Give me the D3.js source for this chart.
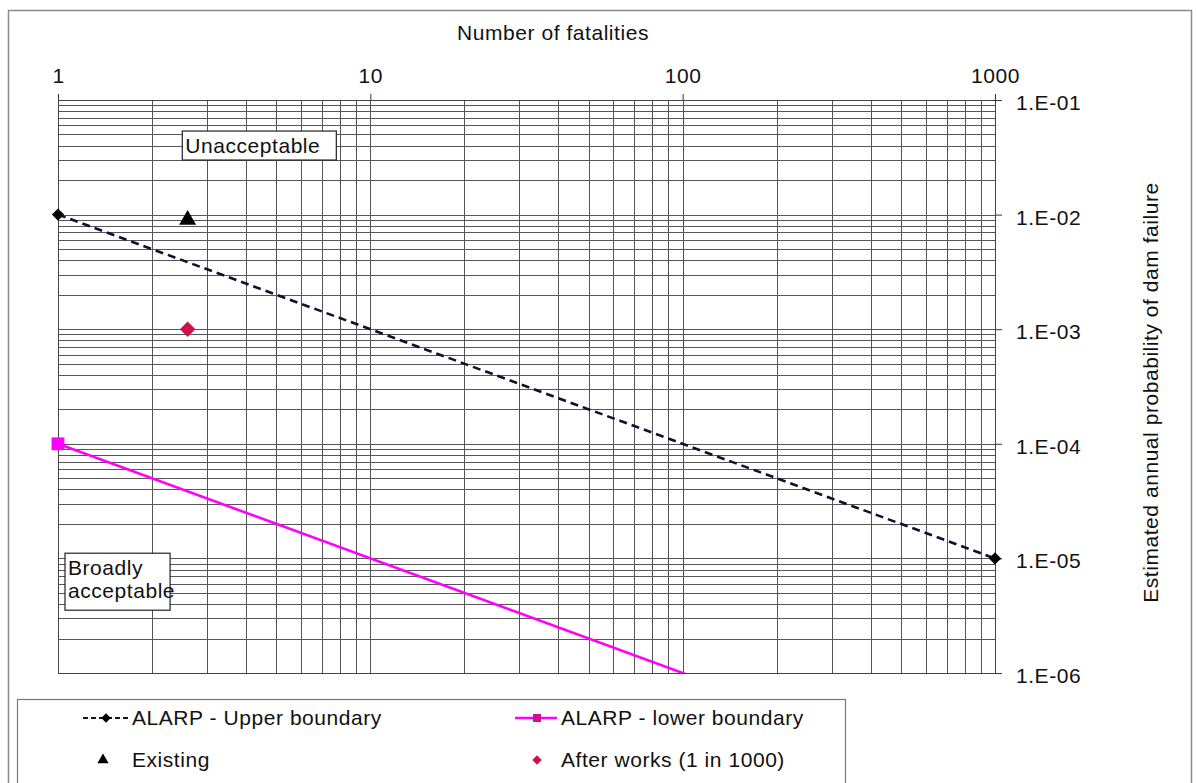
<!DOCTYPE html>
<html>
<head>
<meta charset="utf-8">
<script src="https://cdn.jsdelivr.net/npm/d3@7"></script>
<style>
  html, body { margin: 0; padding: 0; background: #fff; }
  svg text { font-family: "Liberation Sans", Arial, sans-serif; fill: #111; }
</style>
</head>
<body>
<svg id="chart" width="1197" height="783"></svg>
<script>
// ---- data -------------------------------------------------------------
const xTickValues = [1, 10, 100, 1000];
const yTickValues = [1e-1, 1e-2, 1e-3, 1e-4, 1e-5, 1e-6];

const upperFatalities  = [1, 1000];
const upperProbability = [1e-2, 1e-5];

const lowerFatalities  = [1, 1000];
const lowerProbability = [1e-4, 1e-7];

const existingFatalities  = [2.6];
const existingProbability = [9e-3];

const afterFatalities  = [2.6];
const afterProbability = [1e-3];

const seriesNames = [
  "ALARP - Upper boundary",
  "ALARP - lower boundary",
  "Existing",
  "After works (1 in 1000)"
];

const zoneLabels = [
  { lines: ["Unacceptable"], fat: 2.5, prob: 0.0536 },
  { lines: ["Broadly", "acceptable"], fat: 1.053, prob: 1.11e-5 }
];

const xTitle = "Number of fatalities";
const yTitle = "Estimated annual probability of dam failure";

// ---- layout -----------------------------------------------------------
const W = 1197, H = 783;
const plot = { left: 58, right: 995, top: 100, bottom: 673 };
const colors = { upper: "#101030", lower: "#ff00ff", existing: "#000", after: "#d0104c" };
const FONT = 21, SPACING = 0.55;

const svg = d3.select("#chart");

const x = d3.scaleLog().domain([1, 1000]).range([plot.left, plot.right]);
const y = d3.scaleLog().domain([1e-1, 1e-6]).range([plot.top, plot.bottom]);

// outer chart frame
svg.append("rect")
  .attr("x", 8.5).attr("y", 10.5)
  .attr("width", 1183).attr("height", 800)
  .attr("fill", "#fff").attr("stroke", "#8a8a8a").attr("stroke-width", 1.5);

// ---- grid -------------------------------------------------------------
const crisp = v => Math.round(v) + 0.5;
const grid = svg.append("g").attr("stroke", "#555").attr("stroke-width", 1);

grid.selectAll("line.v").data(x.ticks()).join("line")
  .attr("class", "v")
  .attr("x1", d => crisp(x(d))).attr("x2", d => crisp(x(d)))
  .attr("y1", plot.top).attr("y2", plot.bottom);

grid.selectAll("line.h").data(y.ticks()).join("line")
  .attr("class", "h")
  .attr("x1", plot.left).attr("x2", plot.right)
  .attr("y1", d => crisp(y(d))).attr("y2", d => crisp(y(d)));

svg.append("rect")
  .attr("x", crisp(plot.left)).attr("y", crisp(plot.top))
  .attr("width", Math.round(plot.right - plot.left))
  .attr("height", Math.round(plot.bottom - plot.top))
  .attr("fill", "none").attr("stroke", "#444").attr("stroke-width", 1);

// ---- axes -------------------------------------------------------------
const topAxis = d3.axisTop(x)
  .tickValues(xTickValues)
  .tickFormat(d3.format("d"))
  .tickSize(6).tickSizeOuter(0).tickPadding(11);

const gx = svg.append("g")
  .attr("transform", `translate(0,${plot.top})`)
  .call(topAxis);
gx.select(".domain").remove();
gx.selectAll("line").attr("stroke", "#333");
gx.selectAll("text")
  .attr("font-size", FONT).attr("letter-spacing", SPACING)
  .attr("font-family", "Liberation Sans, Arial, sans-serif").attr("fill", "#111");

const expFormat = d => "1.E-" + String(-Math.round(Math.log10(d))).padStart(2, "0");
const rightAxis = d3.axisRight(y)
  .tickValues(yTickValues)
  .tickFormat(expFormat)
  .tickSize(7).tickSizeOuter(0).tickPadding(14);

const gy = svg.append("g")
  .attr("transform", `translate(${plot.right},0)`)
  .call(rightAxis);
gy.select(".domain").remove();
gy.selectAll("line").attr("stroke", "#333");
gy.selectAll("text")
  .attr("font-size", FONT).attr("letter-spacing", SPACING)
  .attr("font-family", "Liberation Sans, Arial, sans-serif").attr("fill", "#111")
  .attr("dy", "0.45em");

// axis titles
svg.append("text")
  .attr("x", 553).attr("y", 40)
  .attr("text-anchor", "middle")
  .attr("font-size", FONT).attr("letter-spacing", SPACING)
  .text(xTitle);

svg.append("text")
  .attr("transform", `translate(1158,${(plot.top + plot.bottom) / 2 + 6}) rotate(-90)`)
  .attr("text-anchor", "middle")
  .attr("font-size", FONT).attr("letter-spacing", SPACING)
  .text(yTitle);

// ---- series -----------------------------------------------------------
svg.append("clipPath").attr("id", "plot-clip")
  .append("rect")
  .attr("x", plot.left - 8).attr("y", plot.top - 8)
  .attr("width", plot.right - plot.left + 16)
  .attr("height", plot.bottom - plot.top + 8);

const zip = (a, b) => a.map((v, i) => [v, b[i]]);
const line = d3.line().x(d => x(d[0])).y(d => y(d[1]));

const series = svg.append("g").attr("clip-path", "url(#plot-clip)");

const upper = zip(upperFatalities, upperProbability);
const lower = zip(lowerFatalities, lowerProbability);

series.append("path")
  .datum(lower)
  .attr("d", line)
  .attr("fill", "none").attr("stroke", colors.lower).attr("stroke-width", 2.6);

series.append("path")
  .datum(upper)
  .attr("d", line)
  .attr("fill", "none").attr("stroke", colors.upper).attr("stroke-width", 2.6)
  .attr("stroke-dasharray", "8,5");

const sym = (type, size) => d3.symbol().type(type).size(size)();

// point markers (those falling outside the plot area are hidden)
const inPlot = d => d[0] >= 1 && d[0] <= 1000 && d[1] >= 1e-6 && d[1] <= 1e-1;

svg.selectAll("path.upper-pt").data(upper.filter(inPlot)).join("path")
  .attr("class", "upper-pt")
  .attr("transform", d => `translate(${x(d[0])},${y(d[1])}) rotate(45)`)
  .attr("d", sym(d3.symbolSquare, 75))
  .attr("fill", "#000");

svg.selectAll("path.lower-pt").data(lower.filter(inPlot)).join("path")
  .attr("class", "lower-pt")
  .attr("transform", d => `translate(${x(d[0])},${y(d[1])})`)
  .attr("d", sym(d3.symbolSquare, 165))
  .attr("fill", colors.lower);

svg.selectAll("path.existing-pt").data(zip(existingFatalities, existingProbability)).join("path")
  .attr("class", "existing-pt")
  .attr("transform", d => `translate(${x(d[0])},${y(d[1])})`)
  .attr("d", sym(d3.symbolTriangle, 125))
  .attr("fill", colors.existing);

svg.selectAll("path.after-pt").data(zip(afterFatalities, afterProbability)).join("path")
  .attr("class", "after-pt")
  .attr("transform", d => `translate(${x(d[0])},${y(d[1])}) rotate(45)`)
  .attr("d", sym(d3.symbolSquare, 120))
  .attr("fill", colors.after);

// ---- zone labels ------------------------------------------------------
zoneLabels.forEach(z => {
  const g = svg.append("g").attr("transform", `translate(${x(z.fat)},${y(z.prob)})`);
  const box = g.append("rect").attr("fill", "#fff").attr("stroke", "#222").attr("stroke-width", 1.2);
  const t = g.append("text").attr("font-size", FONT).attr("letter-spacing", SPACING);
  z.lines.forEach((ln, i) => {
    t.append("tspan").attr("x", 3).attr("y", 22 + i * 23).text(ln);
  });
  const bb = t.node().getBBox();
  const wide = z.lines.length === 1;
  box.attr("x", 0).attr("y", 0)
     .attr("width", wide ? bb.width + 19 : bb.width - 2)
     .attr("height", wide ? 29 : 57);
});

// ---- legend -----------------------------------------------------------
const legend = svg.append("g");
legend.append("rect")
  .attr("x", 17.5).attr("y", 699.5).attr("width", 828).attr("height", 100)
  .attr("fill", "#fff").attr("stroke", "#777").attr("stroke-width", 1.2);

const legendItems = [
  { name: seriesNames[0], col: 0, row: 0, kind: "upper" },
  { name: seriesNames[1], col: 1, row: 0, kind: "lower" },
  { name: seriesNames[2], col: 0, row: 1, kind: "existing" },
  { name: seriesNames[3], col: 1, row: 1, kind: "after" }
];
const colX = [83, 515], rowY = [718, 760];

legendItems.forEach(it => {
  const g = legend.append("g").attr("transform", `translate(${colX[it.col]},${rowY[it.row]})`);
  if (it.kind === "upper") {
    g.append("line").attr("x1", 0).attr("x2", 46).attr("y1", 0).attr("y2", 0)
      .attr("stroke", colors.upper).attr("stroke-width", 2.2).attr("stroke-dasharray", "5,3");
    g.append("path").attr("transform", "translate(23,0) rotate(45)")
      .attr("d", sym(d3.symbolSquare, 45)).attr("fill", "#000");
  } else if (it.kind === "lower") {
    g.append("line").attr("x1", 0).attr("x2", 42).attr("y1", 0).attr("y2", 0)
      .attr("stroke", colors.lower).attr("stroke-width", 2.5);
    g.append("path").attr("transform", "translate(22,0)")
      .attr("d", sym(d3.symbolSquare, 64)).attr("fill", "#d0108a");
  } else if (it.kind === "existing") {
    g.append("path").attr("transform", "translate(20,0)")
      .attr("d", sym(d3.symbolTriangle, 55)).attr("fill", colors.existing);
  } else {
    g.append("path").attr("transform", "translate(22,0) rotate(45)")
      .attr("d", sym(d3.symbolSquare, 45)).attr("fill", colors.after);
  }
  g.append("text")
    .attr("x", it.col === 0 ? 49 : 46).attr("y", 7)
    .attr("font-size", FONT).attr("letter-spacing", SPACING)
    .text(it.name);
});
</script>
</body>
</html>
